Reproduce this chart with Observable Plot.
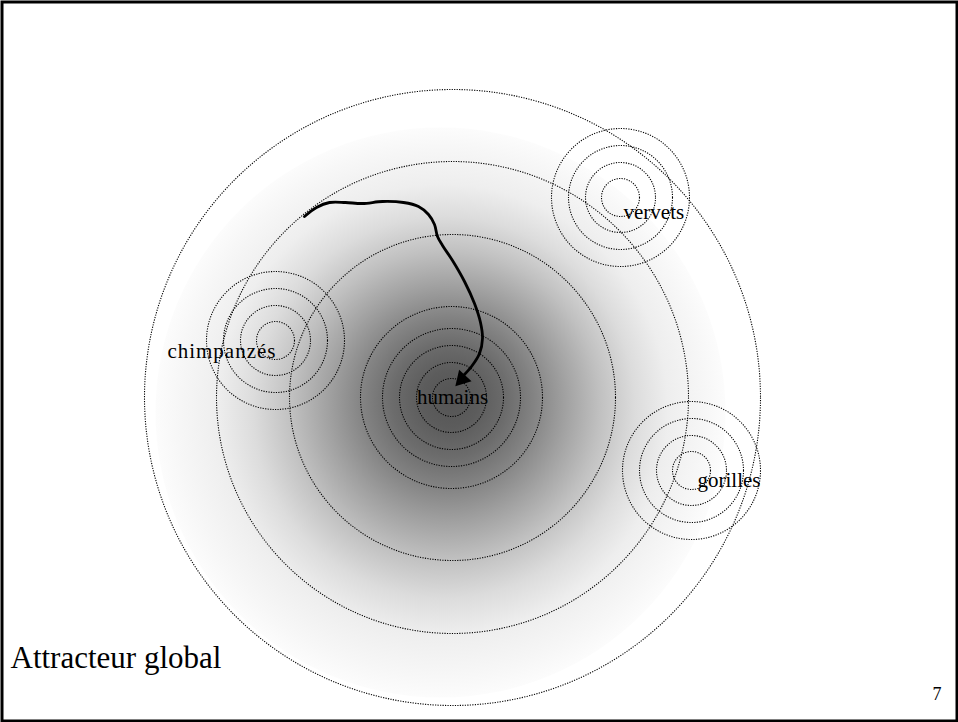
<!DOCTYPE html>
<html>
<head>
<meta charset="utf-8">
<script src="https://cdn.jsdelivr.net/npm/d3@7"></script>
<script src="https://cdn.jsdelivr.net/npm/@observablehq/plot@0.6"></script>
<style>
  html, body { margin: 0; padding: 0; background: #fff; }
  svg { display: block; }
  svg text { font-family: "Liberation Serif", "Times New Roman", Times, "DejaVu Serif", serif !important; }
</style>
</head>
<body>
<div id="chart"></div>
<script>
// Global attractor (centre, ring radii)
const attractorX = [452];
const attractorY = [397];
const attractorRings = [308, 236, 163];
// Shaded basin (centre and radius of the grey halo)
const shadeX = [440];
const shadeY = [412];
const shadeR = [285];

// Species attractors
const speciesNames = ["humains", "chimpanzés", "vervets", "gorilles"];
const speciesX = [451, 275, 620, 691];
const speciesY = [397, 340, 197, 470];
const speciesRings = [19, 35, 52, 69];
const humanExtraRing = [91];

// Trajectory (hand-drawn path) towards "humains"
const pathX = [304, 316, 329, 345, 362, 382, 403, 418, 428, 434, 437, 442, 452, 464, 474, 480, 482, 479, 471, 463];
const pathY = [216, 207, 202, 202, 203, 201, 202, 206, 214, 224, 236, 245, 260, 281, 303, 322, 338, 353, 366, 375];
const arrowHead = [{x: 461.5, y: 378.5}];

const title = ["Attracteur global"];
const pageNumber = ["7"];

const rings = [];
attractorRings.forEach(r => rings.push({x: attractorX[0], y: attractorY[0], r}));
speciesNames.forEach((name, i) => {
  speciesRings.forEach(r => rings.push({x: speciesX[i], y: speciesY[i], r}));
});
humanExtraRing.forEach(r => rings.push({x: speciesX[0], y: speciesY[0], r}));

const path = pathX.map((x, i) => ({x, y: pathY[i]}));
const labels = speciesNames.map((name, i) => ({name, x: speciesX[i], y: speciesY[i]}));
const shade = shadeR.map((r, i) => ({x: shadeX[i], y: shadeY[i], r}));

const serif = "Liberation Serif";
const dotted = {fill: "none", stroke: "#000", strokeWidth: 1.1, strokeDasharray: "1.2,1.3"};

const chart = Plot.plot({
  width: 958,
  height: 722,
  margin: 0,
  style: {background: "#fff"},
  x: {domain: [0, 958], range: [0, 958], axis: null},
  y: {domain: [0, 722], range: [0, 722], axis: null},
  r: {type: "identity"},
  marks: [
    Plot.dot(shade, {x: "x", y: "y", r: "r", fill: "url(#basinGrad)", stroke: "none"}),
    Plot.dot(rings, {x: "x", y: "y", r: "r", ...dotted}),
    Plot.line(path, {x: "x", y: "y", curve: "catmull-rom", stroke: "#000", strokeWidth: 2.8, strokeLinecap: "round"}),
    Plot.dot(arrowHead, {x: "x", y: "y", symbol: "triangle", r: 6.3, fill: "#000", stroke: "none", rotate: 223}),
    Plot.text(labels.filter(d => d.name === "humains"), {x: "x", y: "y", text: "name", textAnchor: "middle", dx: 1, dy: 0, fontSize: 21, fontFamily: serif, fill: "#000"}),
    Plot.text(labels.filter(d => d.name === "chimpanzés"), {x: "x", y: "y", text: "name", textAnchor: "end", dx: 1, dy: 11, fontSize: 21, fontFamily: serif, fill: "#000"}),
    Plot.text(labels.filter(d => d.name === "vervets"), {x: "x", y: "y", text: "name", textAnchor: "start", dx: 3, dy: 15, fontSize: 21, fontFamily: serif, fill: "#000"}),
    Plot.text(labels.filter(d => d.name === "gorilles"), {x: "x", y: "y", text: "name", textAnchor: "start", dx: 6, dy: 10, fontSize: 21, fontFamily: serif, fill: "#000"}),
    Plot.text(title, {text: d => d, frameAnchor: "bottom-left", textAnchor: "start", dx: 10, dy: -55, fontSize: 31, fontFamily: serif, fill: "#000"}),
    Plot.text(pageNumber, {text: d => d, frameAnchor: "bottom-right", textAnchor: "end", dx: -17, dy: -23, fontSize: 18, fontFamily: serif, fill: "#000"}),
    Plot.frame({stroke: "#000", strokeWidth: 3, inset: 1.5})
  ]
});

// Radial gradient for the basin: focal point on the "humains" attractor
const cx = shadeX[0], cy = shadeY[0], R = shadeR[0];
const defs = d3.select(chart).insert("defs", ":first-child");
const grad = defs.append("radialGradient")
  .attr("id", "basinGrad")
  .attr("fx", (speciesX[0] - (cx - R)) / (2 * R))
  .attr("fy", (speciesY[0] - (cy - R)) / (2 * R));
[
  [0, "#545454"],
  [0.1, "#5c5c5c"],
  [0.2, "#6c6c6c"],
  [0.3, "#838383"],
  [0.42, "#a2a2a2"],
  [0.54, "#c0c0c0"],
  [0.67, "#dcdcdc"],
  [0.79, "#eeeeee"],
  [0.93, "#f7f7f7"],
  [1, "#fcfcfc"]
].forEach(([o, c]) => grad.append("stop").attr("offset", o).attr("stop-color", c));

// Slightly wider letter spacing on the "chimpanzés" label, as in the original slide
d3.select(chart).selectAll("text").filter(function() { return this.textContent === "chimpanzés"; })
  .attr("letter-spacing", "1px");

document.getElementById("chart").appendChild(chart);
</script>
</body>
</html>
